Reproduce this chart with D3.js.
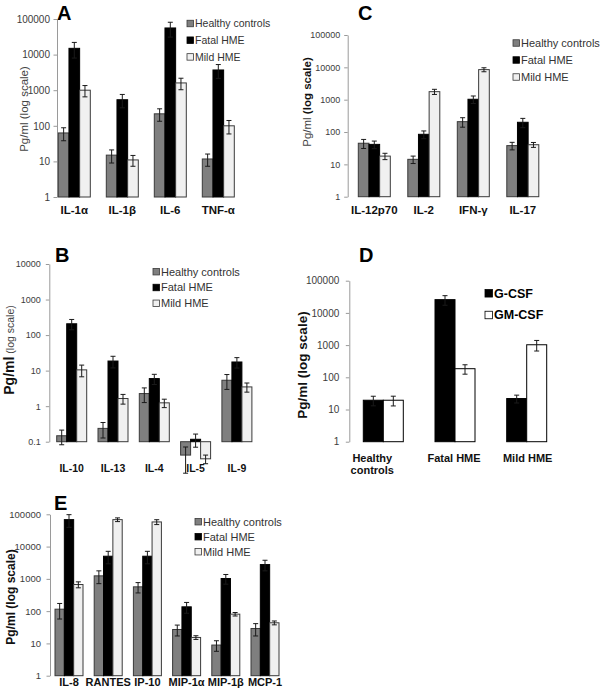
<!DOCTYPE html>
<html><head><meta charset="utf-8">
<script src="https://cdn.jsdelivr.net/npm/d3@7"></script>
<style>html,body{margin:0;padding:0;background:#fff;}svg{display:block;}</style>
</head><body>
<script>
// ---------- DATA ----------
const seriesNames = ["Healthy controls", "Fatal HME", "Mild HME"];
const ticksLog = ["1", "10", "100", "1000", "10000", "100000"];
const ticksLogB = ["0.1", "1", "10", "100", "1000", "10000"];

const A_categories = ["IL-1α", "IL-1β", "IL-6", "TNF-α"];
const A_healthy = [63, 15, 217, 11.7];
const A_healthyErr = [25, 6, 83, 4.4];
const A_fatal = [15000, 540, 56000, 3700];
const A_fatalErr = [7000, 220, 25000, 1550];
const A_mild = [1000, 11, 1600, 100];
const A_mildErr = [350, 3.7, 570, 41];

const B_categories = ["IL-10", "IL-13", "IL-4", "IL-5", "IL-9"];
const B_healthy = [0.147, 0.237, 2.26, 0.042, 5.36];
const B_healthyErr = [0.065, 0.11, 1, 0.029, 2.4];
const B_fatal = [208, 18.6, 5.97, 0.117, 17.5];
const B_fatalErr = [67, 6.7, 1.9, 0.047, 5.7];
const B_mild = [10.5, 1.64, 1.24, 0.033, 3.48];
const B_mildErr = [3.8, 0.5, 0.33, 0.009, 1];

const C_categories = ["IL-12p70", "IL-2", "IFN-γ", "IL-17"];
const C_healthy = [45, 14.3, 209, 38];
const C_healthyErr = [14, 3.7, 68, 10];
const C_fatal = [41.5, 85, 1030, 200];
const C_fatalErr = [11, 23, 270, 64];
const C_mild = [18, 1770, 8500, 40.5];
const C_mildErr = [4, 320, 1200, 7];

const D_categories = ["Healthy controls", "Fatal HME", "Mild HME"];
const D_seriesNames = ["G-CSF", "GM-CSF"];
const D_gcsf = [19.4, 25800, 21.9];
const D_gcsfErr = [6.4, 8500, 6];
const D_gmcsf = [19.4, 185, 1025];
const D_gmcsfErr = [6.5, 60, 370];

const E_categories = ["IL-8", "RANTES", "IP-10", "MIP-1α", "MIP-1β", "MCP-1"];
const E_healthy = [115, 1240, 566, 27, 8.9, 29];
const E_healthyErr = [58, 530, 200, 10, 3.2, 12];
const E_fatal = [68400, 5030, 5030, 136, 1025, 2770];
const E_fatalErr = [29000, 2100, 2100, 50, 340, 1000];
const E_mild = [668, 68400, 58000, 15.3, 80.7, 43.6];
const E_mildErr = [140, 9000, 10000, 2, 10, 6];

// ---------- STYLE ----------
const FONT = '"Liberation Sans", Arial, Helvetica, sans-serif';
const GRAY = {fill: "#7f7f7f", stroke: "#3a3a3a"};
const BLACK = {fill: "#000000", stroke: "#000000"};
const LIGHT = {fill: "#f0f0f0", stroke: "#3a3a3a"};
const WHITE = {fill: "#ffffff", stroke: "#000000"};

const svg = d3.select("body").append("svg").attr("width", 600).attr("height", 697)
  .style("font-family", FONT);

function panel(cfg) {
  const g = svg.append("g");
  const n = cfg.categories.length;
  const p = 1 - cfg.bw / cfg.step;
  const x0 = d3.scaleBand().domain(cfg.categories)
    .range([cfg.x0, cfg.x0 + cfg.step * (n - p)]).paddingInner(p).paddingOuter(0);
  const x1 = d3.scaleBand().domain(cfg.series.map((s, i) => i)).range([0, x0.bandwidth()]);
  const y = d3.scaleLog().domain(cfg.yDomain).range([cfg.yBottom, cfg.yTop]);
  const tickVals = cfg.tickLabels.map(t => +t);

  // axis
  const ax = g.append("g").attr("transform", `translate(${cfg.axisX},0)`)
    .call(d3.axisLeft(y).tickValues(tickVals).tickFormat((d, i) => cfg.tickLabels[i]).tickSize(3.5).tickSizeOuter(0));
  ax.select(".domain").attr("stroke", "#9a9a9a");
  ax.selectAll(".tick line").attr("stroke", "#9a9a9a");
  ax.selectAll(".tick text").attr("fill", "#3c3c3c").style("font-family", FONT)
    .style("font-size", cfg.tickFont + "px").attr("x", -cfg.tickGap);

  const base = cfg.yDomain[0];
  cfg.series.forEach((s, si) => {
    const gs = g.append("g");
    cfg.categories.forEach((c, ci) => {
      const v = s.values[ci];
      const bx = x0(c) + x1(si);
      const yv = y(v), yb = y(base);
      gs.append("rect").attr("x", bx).attr("width", x1.bandwidth())
        .attr("y", Math.min(yv, yb)).attr("height", Math.abs(yv - yb))
        .attr("fill", s.style.fill).attr("stroke", s.style.stroke).attr("stroke-width", 1);
    });
  });
  // error bars
  cfg.series.forEach((s, si) => {
    cfg.categories.forEach((c, ci) => {
      const v = s.values[ci], e = s.errs[ci];
      const cx = x0(c) + x1(si) + x1.bandwidth() / 2;
      const hi = y(v + e), lo = y(Math.max(v - e, v * 0.05));
      const col = "#1a1a1a";
      g.append("line").attr("x1", cx).attr("x2", cx).attr("y1", hi).attr("y2", lo).attr("stroke", col).attr("stroke-width", 1);
      [hi, lo].forEach(yy => g.append("line").attr("x1", cx - 2.5).attr("x2", cx + 2.5).attr("y1", yy).attr("y2", yy).attr("stroke", col).attr("stroke-width", 1));
    });
  });

  // x labels
  cfg.categories.forEach((c, ci) => {
    const lines = cfg.labelLines ? cfg.labelLines[ci] : [c];
    const t = g.append("text").attr("text-anchor", "middle").attr("font-weight", "bold")
      .style("font-size", cfg.xFont + "px").attr("fill", "#111");
    lines.forEach((l, li) => t.append("tspan").attr("x", x0(c) + x0.bandwidth() / 2 + (cfg.labelDx ? cfg.labelDx[ci] : 0))
      .attr("y", cfg.xLabelY + li * cfg.xFont * 1.1).text(l));
  });

  // legend
  cfg.series.forEach((s, si) => {
    const ly = cfg.legY + si * cfg.legStep;
    g.append("rect").attr("x", cfg.legX).attr("y", ly - cfg.legSq / 2).attr("width", cfg.legSq).attr("height", cfg.legSq)
      .attr("fill", s.style.fill).attr("stroke", s.style.stroke).attr("stroke-width", 0.8);
    g.append("text").attr("x", cfg.legX + cfg.legSq + 1.5).attr("y", ly).attr("dy", "0.35em")
      .style("font-size", cfg.legFont + "px").attr("font-weight", cfg.legBold ? "bold" : "normal")
      .attr("fill", cfg.legBold ? "#000" : "#333").text(s.name);
  });

  // y title
  const tt = g.append("text").attr("transform", `translate(${cfg.titleX},${cfg.titleY}) rotate(-90)`)
    .attr("text-anchor", "middle").attr("dy", "0.35em").attr("fill", "#222");
  cfg.title.forEach(part => tt.append("tspan").style("font-size", part.size + "px")
    .attr("font-weight", part.bold ? "bold" : "normal").attr("fill", part.bold ? "#111" : "#444").text(part.text));

  // panel letter
  g.append("text").attr("x", cfg.letterX).attr("y", cfg.letterY).attr("font-weight", "bold")
    .style("font-size", "20px").attr("fill", "#000").text(cfg.letter);
}

const mk = (names, vals, errs, styles) => names.map((nm, i) => ({name: nm, values: vals[i], errs: errs[i], style: styles[i]}));

panel({
  letter: "A", letterX: 57, letterY: 20,
  categories: A_categories,
  series: mk(seriesNames, [A_healthy, A_fatal, A_mild], [A_healthyErr, A_fatalErr, A_mildErr], [GRAY, BLACK, LIGHT]),
  yDomain: [1, 100000], yBottom: 197, yTop: 19, axisX: 57, tickLabels: ticksLog, tickFont: 10, tickGap: 7,
  x0: 58.3, step: 48, bw: 32, xLabelY: 214, xFont: 11.5,
  legX: 187, legY: 23.5, legStep: 16.7, legSq: 6.5, legFont: 10.5,
  titleX: 22, titleY: 109, title: [{text: "Pg/ml (log scale)", size: 11.5, bold: false}]
});

panel({
  letter: "C", letterX: 358, letterY: 20,
  categories: C_categories,
  series: mk(seriesNames, [C_healthy, C_fatal, C_mild], [C_healthyErr, C_fatalErr, C_mildErr], [GRAY, BLACK, LIGHT]),
  yDomain: [1, 100000], yBottom: 196.7, yTop: 35, axisX: 347.7, tickLabels: ticksLog, tickFont: 9, tickGap: 7.5,
  x0: 358.3, step: 49.5, bw: 32, xLabelY: 214, xFont: 11.5,
  legX: 513, legY: 43, legStep: 17, legSq: 6.5, legFont: 11,
  titleX: 305, titleY: 102, title: [{text: "Pg/ml ", size: 11.5, bold: false}, {text: "(log scale)", size: 11.5, bold: true}]
});

panel({
  letter: "B", letterX: 55, letterY: 262,
  categories: B_categories,
  series: mk(seriesNames, [B_healthy, B_fatal, B_mild], [B_healthyErr, B_fatalErr, B_mildErr], [GRAY, BLACK, LIGHT]),
  yDomain: [0.1, 10000], yBottom: 441.7, yTop: 264, axisX: 49.3, tickLabels: ticksLogB, tickFont: 9, tickGap: 8.5,
  x0: 56.7, step: 41.3, bw: 30, xLabelY: 472, xFont: 10.5,
  legX: 153, legY: 271.7, legStep: 15.8, legSq: 6.5, legFont: 11,
  titleX: 8, titleY: 350, title: [{text: "Pg/ml", size: 14, bold: true}, {text: " (log scale)", size: 10.5, bold: false}]
});

panel({
  letter: "D", letterX: 359, letterY: 262,
  categories: D_categories, labelLines: [["Healthy", "controls"], ["Fatal HME"], ["Mild HME"]], labelDx: [-11, -1, 1],
  series: mk(D_seriesNames, [D_gcsf, D_gmcsf], [D_gcsfErr, D_gmcsfErr], [BLACK, WHITE]),
  yDomain: [1, 100000], yBottom: 441.7, yTop: 280.7, axisX: 349.3, tickLabels: ticksLog, tickFont: 10, tickGap: 10,
  x0: 363.3, step: 71.7, bw: 40, xLabelY: 462, xFont: 11,
  legX: 485, legY: 293.3, legStep: 21.7, legSq: 7.5, legFont: 12.5, legBold: true,
  titleX: 301, titleY: 365, title: [{text: "Pg/ml (log scale)", size: 13.5, bold: true}]
});

panel({
  letter: "E", letterX: 54, letterY: 510,
  categories: E_categories,
  series: mk(seriesNames, [E_healthy, E_fatal, E_mild], [E_healthyErr, E_fatalErr, E_mildErr], [GRAY, BLACK, LIGHT]),
  yDomain: [1, 100000], yBottom: 675.7, yTop: 514.3, axisX: 50, tickLabels: ticksLog, tickFont: 9.5, tickGap: 9,
  x0: 55, step: 39.2, bw: 28, xLabelY: 686, xFont: 11,
  legX: 195, legY: 521.7, legStep: 15, legSq: 6.5, legFont: 11,
  titleX: 9, titleY: 597, title: [{text: "Pg/ml (log scale)", size: 12, bold: true}]
});
</script>
</body></html>
